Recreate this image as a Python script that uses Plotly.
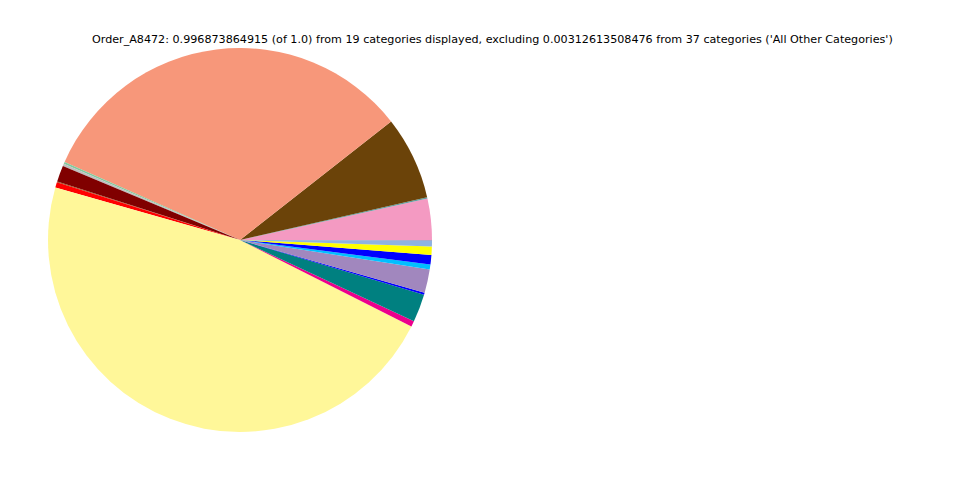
import plotly.graph_objects as go

# Share of each displayed category (in degrees of the pie)
categories = [
    "Cat_01", "Cat_02", "Cat_03", "Cat_04", "Cat_05", "Cat_06", "Cat_07",
    "Cat_08", "Cat_09", "Cat_10", "Cat_11", "Cat_12", "Cat_13", "Cat_14",
    "Cat_15", "Cat_16", "Cat_17", "Cat_18", "Cat_19",
]
values_deg = [
    0.15, 12.5, 0.4, 25.2, 117.9, 0.6, 0.7, 4.9, 0.3, 1.6,
    169.1, 1.7, 8.5, 0.6, 7.1, 1.5, 2.9, 2.5, 1.8,
]
colors = [
    "#8B3A62", "#F49AC2", "#5F9EA0", "#6B4309", "#F7977A", "#82CA9D", "#C0C0C0",
    "#800000", "#8B4513", "#FF0000", "#FFF799", "#EC008C", "#008080", "#0000FF",
    "#A187BE", "#00BFFF", "#0000FF", "#FFFF00", "#8FB3E0",
]

title_text = ("Order_A8472: 0.996873864915 (of 1.0) from 19 categories displayed, "
              "excluding 0.00312613508476 from 37 categories ('All Other Categories')")

fig = go.Figure(
    go.Pie(
        labels=categories,
        values=values_deg,
        marker=dict(colors=colors, line=dict(width=0)),
        sort=False,
        direction="counterclockwise",
        rotation=90,
        textinfo="none",
        showlegend=False,
        domain=dict(x=[40 / 960, 424 / 960], y=[1 - 424 / 480, 1 - 40 / 480]),
    )
)

fig.update_layout(
    width=960,
    height=480,
    margin=dict(l=0, r=0, t=0, b=0),
    paper_bgcolor="white",
    plot_bgcolor="white",
    annotations=[
        dict(
            text=title_text,
            x=484 / 960,
            y=1 - 32 / 480,
            xref="paper",
            yref="paper",
            xanchor="center",
            yanchor="middle",
            showarrow=False,
            font=dict(family="DejaVu Sans", size=11.15, color="black"),
        )
    ],
)

fig.write_html("out.html")
